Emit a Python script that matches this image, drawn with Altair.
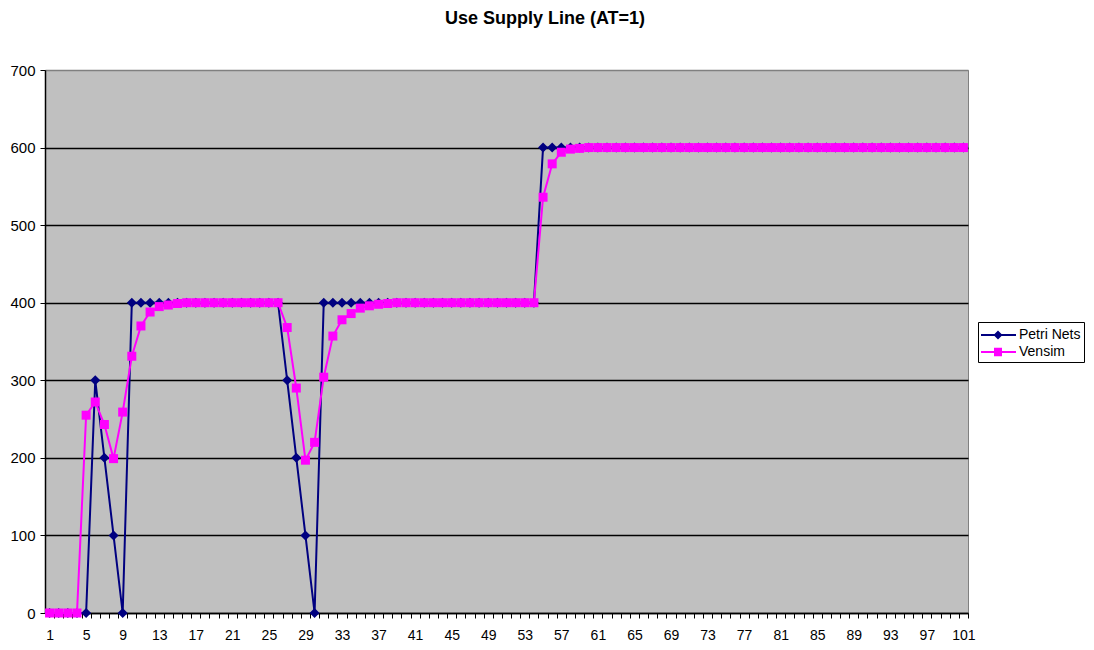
import altair as alt
import pandas as pd

steps = list(range(1, 102))

petri_nets = [
    0, 0, 0, 0, 0, 300, 200, 100, 0,
    400, 400, 400, 400, 400, 400, 400, 400, 400, 400, 400, 400, 400, 400, 400, 400, 400,
    300, 200, 100, 0,
    400, 400, 400, 400, 400, 400, 400, 400, 400, 400, 400, 400,
    400, 400, 400, 400, 400, 400, 400, 400, 400, 400, 400, 400,
    600, 600, 600, 600, 600, 600, 600, 600, 600, 600,
    600, 600, 600, 600, 600, 600, 600, 600, 600, 600,
    600, 600, 600, 600, 600, 600, 600, 600, 600, 600,
    600, 600, 600, 600, 600, 600, 600, 600, 600, 600,
    600, 600, 600, 600, 600, 600, 600,
]

vensim = [
    0, 0, 0, 0, 255, 272, 243, 199, 259, 331, 370, 388, 395, 397, 399,
    400, 400, 400, 400, 400, 400, 400, 400, 400, 400, 400,
    368, 290, 197, 220, 304, 357, 378, 386, 393, 396, 398, 399,
    400, 400, 400, 400, 400, 400, 400, 400, 400, 400, 400, 400, 400, 400, 400, 400,
    536, 579, 594, 598, 599,
    600, 600, 600, 600, 600, 600, 600, 600, 600, 600,
    600, 600, 600, 600, 600, 600, 600, 600, 600, 600,
    600, 600, 600, 600, 600, 600, 600, 600, 600, 600,
    600, 600, 600, 600, 600, 600, 600, 600, 600, 600,
    600, 600,
]

series_names = ["Petri Nets", "Vensim"]
series_colors = ["#000080", "#FF00FF"]
y_ticks = [0, 100, 200, 300, 400, 500, 600, 700]

df = pd.DataFrame({
    "step": steps + steps,
    "value": petri_nets + vensim,
    "series": [series_names[0]] * len(steps) + [series_names[1]] * len(steps),
})

W, H = 923, 543
half_band = W / len(steps) / 2

x_enc = alt.X(
    "step:Q",
    scale=alt.Scale(domain=[0.5, 101.5], nice=False, zero=False),
    axis=alt.Axis(
        values=steps,
        labelExpr="(datum.value - 1) % 4 == 0 ? datum.value : ''",
        tickOffset=half_band,
        labelOffset=-half_band,
        grid=False,
        title=None,
        labelPadding=10,
        labelFontSize=14,
        labelAngle=0,
        labelOverlap=False,
        labelFlush=False,
    ),
)
y_enc = alt.Y(
    "value:Q",
    scale=alt.Scale(domain=[0, 700], nice=False),
    axis=alt.Axis(
        values=y_ticks,
        title=None,
        grid=True,
        gridColor={"condition": {"test": "datum.value === 700", "value": "#808080"}, "value": "#000000"},
        gridWidth=1.6,
        labelPadding=5,
    ),
)

base = alt.Chart(df)

petri_line = base.transform_filter(alt.datum.series == series_names[0]).mark_line(
    color=series_colors[0], strokeWidth=2
).encode(x=x_enc, y=y_enc)
petri_pts = base.transform_filter(alt.datum.series == series_names[0]).mark_point(
    shape="diamond", filled=True, size=100, color=series_colors[0], opacity=1
).encode(x=x_enc, y=y_enc)
vensim_line = base.transform_filter(alt.datum.series == series_names[1]).mark_line(
    color=series_colors[1], strokeWidth=2
).encode(x=x_enc, y=y_enc)
vensim_pts = base.transform_filter(alt.datum.series == series_names[1]).mark_point(
    shape="square", filled=True, size=81, color=series_colors[1], opacity=1
).encode(x=x_enc, y=y_enc)

path_petri = "M-1,-0.1L2.5,-0.1L2.5,0.1L-1,0.1Z M0.7,-0.45L1.15,0L0.7,0.45L0.25,0Z"
path_vensim = "M-1,-0.1L2.5,-0.1L2.5,0.1L-1,0.1Z M0.3,-0.42L1.1,-0.42L1.1,0.42L0.3,0.42Z"

leg = alt.Legend(
    title=None,
    orient="none",
    legendX=933,
    legendY=252,
    padding=3,
    strokeColor="#000000",
    fillColor="#FFFFFF",
    symbolSize=400,
    symbolStrokeWidth=0,
    symbolOpacity=1,
    labelOffset=18,
    rowPadding=0,
    labelFont="Liberation Sans",
    labelFontSize=14,
    labelColor="#000000",
    cornerRadius=0,
)

legend_layer = base.transform_filter("false").mark_point(filled=True, opacity=1).encode(
    x=x_enc,
    y=y_enc,
    color=alt.Color("series:N", scale=alt.Scale(domain=series_names, range=series_colors), legend=leg),
    shape=alt.Shape("series:N", scale=alt.Scale(domain=series_names, range=[path_petri, path_vensim]), legend=leg),
)

chart = alt.layer(petri_line, petri_pts, vensim_line, vensim_pts, legend_layer).properties(
    width=W,
    height=H,
    autosize=alt.AutoSizeParams(type="none"),
    padding={"left": 37, "top": 62, "right": 118, "bottom": 29},
    background="#FFFFFF",
    title=alt.TitleParams(
        "Use Supply Line (AT=1)",
        font="Liberation Sans",
        fontSize=18,
        fontWeight="bold",
        color="#000000",
        anchor="middle",
        frame="group",
        dx=38.5,
        offset=35,
    ),
).configure_view(
    fill="#C0C0C0", stroke="#808080", strokeWidth=1
).configure_axis(
    domainColor="#000000",
    domainWidth=1.5,
    tickColor="#000000",
    tickSize=5,
    tickWidth=1,
    labelFont="Liberation Sans",
    labelFontSize=15,
    labelColor="#000000",
)

chart.save("out.html", embed_options={"renderer": "svg", "actions": False})
